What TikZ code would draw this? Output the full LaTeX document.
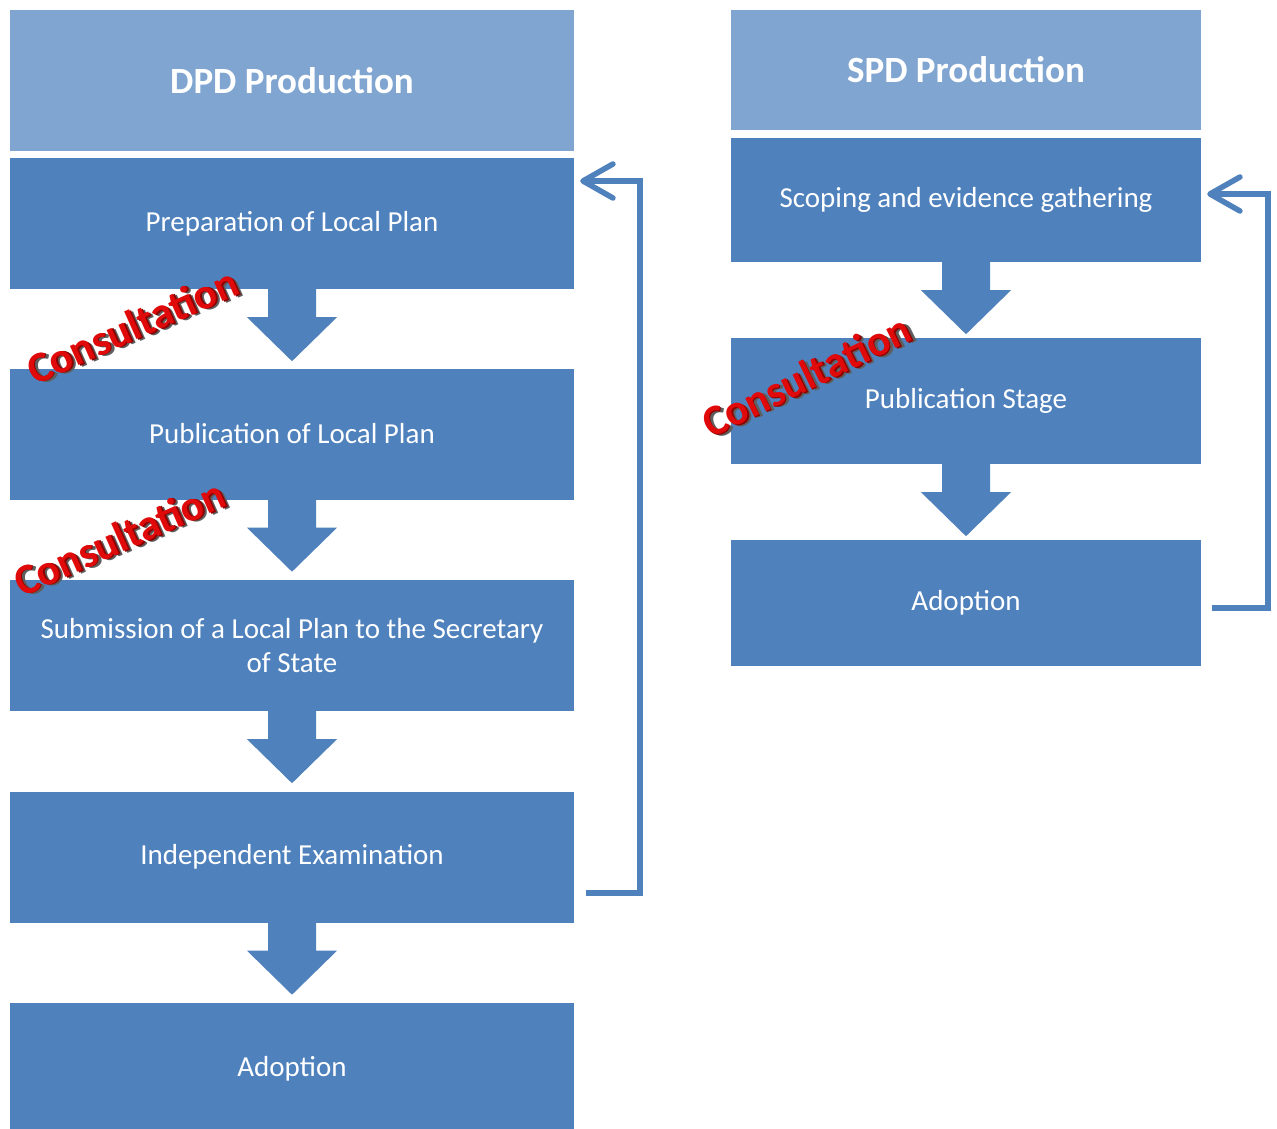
\documentclass[tikz,border=0pt]{standalone}
\usepackage{fontspec}
\setmainfont{Carlito}
\usetikzlibrary{arrows.meta,calc}
\definecolor{boxblue}{RGB}{79,129,189}
\definecolor{headblue}{RGB}{128,165,208}
\definecolor{consred}{RGB}{225,10,10}
\definecolor{consdark}{RGB}{140,0,0}
\definecolor{consshade}{RGB}{95,95,95}
\newcommand{\shadowedword}[1]{%
  \makebox[0pt][l]{\hspace{3pt}\raisebox{-3pt}{\color{consshade}#1}}%
  \makebox[0pt][l]{\hspace{1.2pt}\raisebox{-1.2pt}{\color{consdark}#1}}%
  {\color{consred}#1}}
\tikzset{
  stagebox/.style={fill=boxblue, draw=none, text=white, inner sep=0pt,
    font=\fontsize{29}{34}\selectfont, align=center},
  leftbox/.style={stagebox, minimum width=564pt, minimum height=131pt},
  rightbox/.style={stagebox, minimum width=470pt, minimum height=125pt},
  headbox/.style={fill=headblue, draw=none, text=white, inner sep=0pt,
    font=\fontsize{37}{44}\selectfont\bfseries},
  cons/.style={inner sep=0pt, font=\fontsize{43}{50}\selectfont\bfseries},
  feedback/.style={draw=boxblue, line width=5.5pt,
    -{Straight Barb[length=30pt, width=34pt, round]}},
  blockarrow/.pic={\fill[boxblue] (-24,-1) -- (-24,28) -- (-45,28) -- (0,72) -- (45,28) -- (24,28) -- (24,-1) -- cycle;}
}
\begin{document}
\begin{tikzpicture}[x=1pt,y=-1pt]
\useasboundingbox (0,0) rectangle (1277,1129);
\clip (0,0) rectangle (1277,1129);
\fill[white] (0,0) rectangle (1277,1129);

% left column
\node[headbox, minimum width=564pt, minimum height=141pt] (lh) at (292,80.5) {DPD Production};
\node[leftbox] (l1) at (292,223.5) {Preparation of Local Plan};
\node[leftbox] (l2) at (292,434) {Publication of Local Plan};
\node[leftbox] (l3) at (292,645.5) {Submission of a Local Plan to the Secretary\\of State};
\node[leftbox] (l4) at (292,857) {Independent Examination};
\node[leftbox] (l5) at (292,1068.5) {Adoption};

\pic at (l1.south) {blockarrow};
\pic at (l2.south) {blockarrow};
\pic at (l3.south) {blockarrow};
\pic at (l4.south) {blockarrow};

% right column
\node[headbox, minimum width=470pt, minimum height=120pt] (rh) at (966,70) {SPD Production};
\node[rightbox, minimum height=124pt] (r1) at (966,200) {Scoping and evidence gathering};
\node[rightbox, minimum height=126pt] (r2) at (966,401) {Publication Stage};
\node[rightbox, minimum height=126pt] (r3) at (966,603) {Adoption};

\pic at (r1.south) {blockarrow};
\pic at (r2.south) {blockarrow};

% feedback loops
\draw[feedback] ($(l4.east)+(12,36)$) -| ($(l1.east)+(66,-42.5)$) -- ($(l1.east)+(6,-42.5)$);
\draw[feedback] ($(r3.east)+(11,5)$) -| ($(r1.east)+(67,-6)$) -- ($(r1.east)+(6,-6)$);

% consultation labels
\node[cons, rotate=24] (c1) at (133,327) {\shadowedword{Consultation}};
\node[cons, rotate=24] (c2) at (120,539) {\shadowedword{Consultation}};
\node[cons, rotate=26] (c3) at (807,377) {\shadowedword{Consultation}};
\end{tikzpicture}
\end{document}
